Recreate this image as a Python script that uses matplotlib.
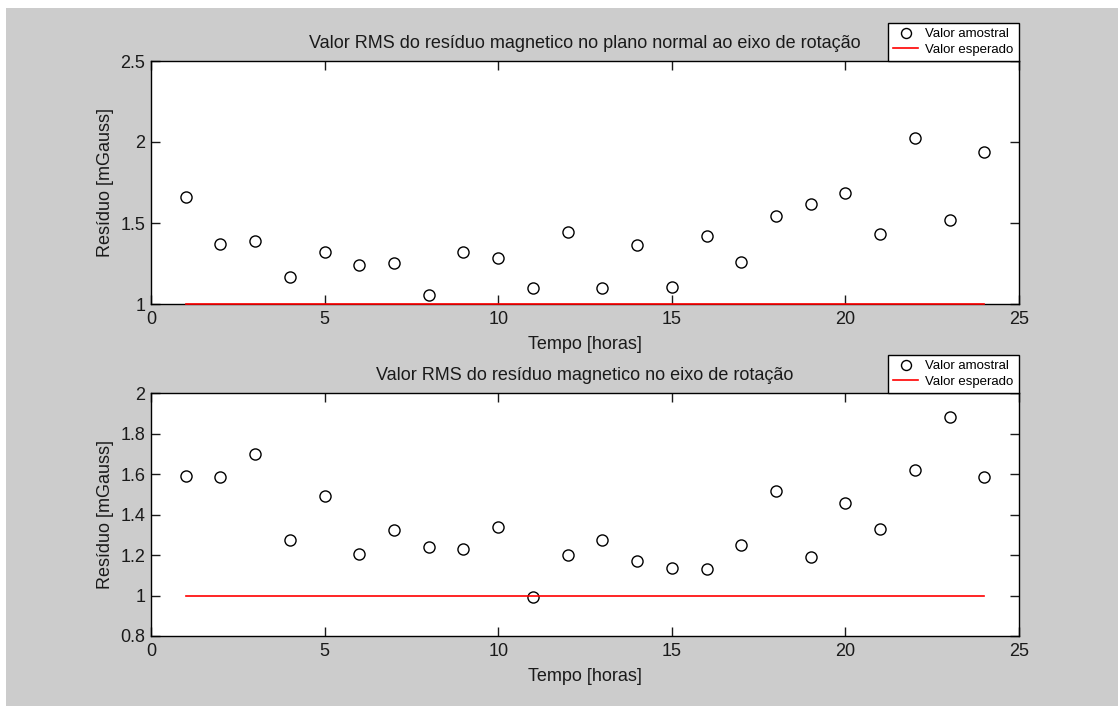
import matplotlib
matplotlib.use("Agg")
import matplotlib.pyplot as plt
from matplotlib.patches import Rectangle

plt.rcParams['font.family'] = ['Liberation Sans', 'DejaVu Sans']

horas = list(range(1, 25))
# RMS residue in the plane normal to the rotation axis
rms_plano = [1.662, 1.371, 1.389, 1.166, 1.320, 1.242, 1.252, 1.053, 1.320, 1.285,
             1.098, 1.443, 1.098, 1.363, 1.107, 1.422, 1.260, 1.543, 1.615, 1.683,
             1.432, 2.027, 1.518, 1.941]
# RMS residue on the rotation axis
rms_eixo = [1.591, 1.584, 1.701, 1.273, 1.489, 1.206, 1.323, 1.239, 1.232, 1.336,
            0.991, 1.198, 1.273, 1.170, 1.135, 1.129, 1.247, 1.515, 1.191, 1.459,
            1.329, 1.619, 1.880, 1.584]
esperado = [1.0] * 24

titulos = ['Valor RMS do resíduo magnetico no plano normal ao eixo de rotação',
           'Valor RMS do resíduo magnetico no eixo de rotação']
ylims = [(1, 2.5), (0.8, 2)]
yticks = [[1, 1.5, 2, 2.5], [0.8, 1, 1.2, 1.4, 1.6, 1.8, 2]]
yticklabels = [['1', '1.5', '2', '2.5'], ['0.8', '1', '1.2', '1.4', '1.6', '1.8', '2']]
xticks = [0, 5, 10, 15, 20, 25]

W, H = 1119, 706
fig = plt.figure(figsize=(W / 100, H / 100), dpi=100, facecolor='white')
fig.add_artist(Rectangle((6 / W, 0), (1118 - 6) / W, (H - 8) / H,
                         transform=fig.transFigure, facecolor='#cccccc',
                         edgecolor='none', zorder=-5))

# axes boxes in pixels: left, top, right, bottom
caixas = [(151, 61, 1019, 304), (151, 393, 1019, 636)]

for k, dados in enumerate([rms_plano, rms_eixo]):
    l, t, r, b = caixas[k]
    ax = fig.add_axes([l / W, 1 - b / H, (r - l) / W, (b - t) / H])
    ax.set_facecolor('white')
    ax.plot(horas, dados, 'o', markersize=8, markerfacecolor='none',
            markeredgecolor='black', markeredgewidth=1.0, label='Valor amostral')
    ax.plot(horas, esperado, '-', color='#ff0000', linewidth=1.2,
            label='Valor esperado', clip_on=False, zorder=5)
    ax.set_xlim(0, 25)
    ax.set_ylim(*ylims[k])
    ax.set_xticks(xticks)
    ax.set_xticklabels([str(v) for v in xticks])
    ax.set_yticks(yticks[k])
    ax.set_yticklabels(yticklabels[k])
    ax.tick_params(direction='in', length=6.5, width=1, top=True, right=True,
                   labelsize=13, colors='#1a1a1a')
    ax.tick_params(axis='x', pad=5)
    ax.tick_params(axis='y', pad=4)
    for s in ax.spines.values():
        s.set_linewidth(1)
        s.set_color('black')
    ax.set_title(titulos[k], fontsize=13, pad=9, color='#1a1a1a')
    ax.set_xlabel('Tempo [horas]', fontsize=13, labelpad=6, color='#1a1a1a')
    ax.set_ylabel('Resíduo [mGauss]', fontsize=13, labelpad=5, color='#1a1a1a')
    leg = ax.legend(loc='lower right', bbox_to_anchor=(1, 1), borderaxespad=0,
                    fontsize=9.5, frameon=True, fancybox=False, framealpha=1,
                    edgecolor='black', handlelength=1.9, handletextpad=0.55,
                    labelspacing=0.25, borderpad=0.4, markerscale=0.9)
    leg.get_frame().set_linewidth(1)

fig.savefig('out.png', dpi=100, facecolor=fig.get_facecolor())
